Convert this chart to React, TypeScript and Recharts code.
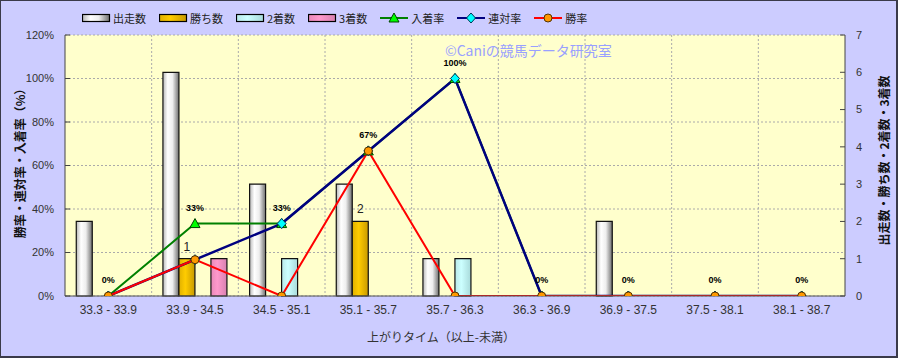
import React from 'react';
import {
  ComposedChart, Bar, Line, XAxis, YAxis, CartesianGrid, Legend, LabelList, Label,
} from 'recharts';

const categories = ['33.3 - 33.9', '33.9 - 34.5', '34.5 - 35.1', '35.1 - 35.7', '35.7 - 36.3', '36.3 - 36.9', '36.9 - 37.5', '37.5 - 38.1', '38.1 - 38.7'];
const starts = [2, 6, 3, 3, 1, 0, 2, 0, 0];
const wins = [0, 1, 0, 2, 0, 0, 0, 0, 0];
const seconds = [0, 0, 1, 0, 1, 0, 0, 0, 0];
const thirds = [0, 1, 0, 0, 0, 0, 0, 0, 0];
const placeRate = [0, 33.3, 33.3, 66.7, 100, 0, 0, 0, 0];
const quinellaRate = [0, 16.7, 33.3, 66.7, 100, 0, 0, 0, 0];
const winRate = [0, 16.7, 0, 66.7, 0, 0, 0, 0, 0];
const leftTicks = [0, 20, 40, 60, 80, 100, 120];
const rightTicks = [0, 1, 2, 3, 4, 5, 6, 7];

const data = categories.map((c, i) => ({
  cat: c,
  starts: starts[i],
  wins: wins[i],
  seconds: seconds[i],
  thirds: thirds[i],
  placeRate: placeRate[i],
  quinellaRate: quinellaRate[i],
  winRate: winRate[i],
}));

const JP = '"Noto Sans CJK JP", "Noto Sans", sans-serif';
const LAT = '"Liberation Sans", Arial, sans-serif';

const Tri = (p: any) => {
  const { cx, cy } = p;
  if (cx == null || cy == null) return null;
  return <polygon key={p.key} points={`${cx},${cy - 5} ${cx - 5},${cy + 4} ${cx + 5},${cy + 4}`} fill="#00FF00" stroke="#004400" strokeWidth={1} />;
};
const Dia = (p: any) => {
  const { cx, cy } = p;
  if (cx == null || cy == null) return null;
  return <polygon key={p.key} points={`${cx},${cy - 5} ${cx + 4.5},${cy} ${cx},${cy + 5} ${cx - 4.5},${cy}`} fill="#00FFFF" stroke="#003355" strokeWidth={1} />;
};
const Circ = (p: any) => {
  const { cx, cy } = p;
  if (cx == null || cy == null) return null;
  return <circle key={p.key} cx={cx} cy={cy} r={4} fill="#FF9900" stroke="#553300" strokeWidth={1} />;
};

const legendItems = [
  { name: '出走数', type: 'bar', fill: 'url(#gStarts)' },
  { name: '勝ち数', type: 'bar', fill: 'url(#gWins)' },
  { name: '2着数', type: 'bar', fill: 'url(#gSec)' },
  { name: '3着数', type: 'bar', fill: 'url(#gThird)' },
  { name: '入着率', type: 'tri', color: '#008000' },
  { name: '連対率', type: 'dia', color: '#000080' },
  { name: '勝率', type: 'circ', color: '#FF0000' },
];

const LegendContent = () => (
  <div style={{ display: 'flex', alignItems: 'center', fontFamily: JP, fontSize: 11, color: '#222', whiteSpace: 'nowrap' }}>
    {legendItems.map((it) => (
      <div key={it.name} style={{ display: 'flex', alignItems: 'center', marginRight: 13 }}>
        <svg width={29} height={12} style={{ marginRight: 2 }}>
          {it.type === 'bar' && <rect x={0.5} y={2.5} width={27} height={7} fill={it.fill} stroke="#000" strokeWidth={1.2} />}
          {it.type !== 'bar' && <line x1={0} y1={6} x2={28} y2={6} stroke={it.color} strokeWidth={2} />}
          {it.type === 'tri' && <Tri cx={14} cy={6} />}
          {it.type === 'dia' && <Dia cx={14} cy={6} />}
          {it.type === 'circ' && <Circ cx={14} cy={6} />}
        </svg>
        <span>{it.name}</span>
      </div>
    ))}
  </div>
);

const vGen = ({ offset }: any) => {
  const n = categories.length;
  const out: number[] = [];
  for (let i = 1; i < n; i++) out.push(offset.left + (offset.width * i) / n);
  return out;
};

export default function App() {
  return (
    <div style={{ position: 'absolute', left: 0, top: 0, width: 898, height: 358, background: '#CCCCFF', boxSizing: 'border-box', border: '1px solid #3a3a4a', borderBottomWidth: 2, borderRightWidth: 2 }}>
      <div style={{ position: 'absolute', left: -1, top: -1 }}>
        <ComposedChart width={898} height={358} data={data} margin={{ top: 35, right: 0, bottom: 12, left: 0 }} barGap={0} barCategoryGap="13%">
          <defs>
            <linearGradient id="gStarts" x1="0" y1="0" x2="1" y2="0">
              <stop offset="0%" stopColor="#b8b8b8" />
              <stop offset="30%" stopColor="#ffffff" />
              <stop offset="60%" stopColor="#eeeeee" />
              <stop offset="100%" stopColor="#6e6e6e" />
            </linearGradient>
            <linearGradient id="gWins" x1="0" y1="0" x2="1" y2="0">
              <stop offset="0%" stopColor="#e0b000" />
              <stop offset="40%" stopColor="#ffcc00" />
              <stop offset="100%" stopColor="#c89a00" />
            </linearGradient>
            <linearGradient id="gSec" x1="0" y1="0" x2="1" y2="0">
              <stop offset="0%" stopColor="#b8e8e8" />
              <stop offset="40%" stopColor="#ccffff" />
              <stop offset="100%" stopColor="#a8dada" />
            </linearGradient>
            <linearGradient id="gThird" x1="0" y1="0" x2="1" y2="0">
              <stop offset="0%" stopColor="#e888b8" />
              <stop offset="40%" stopColor="#ff99cc" />
              <stop offset="100%" stopColor="#d880b0" />
            </linearGradient>
          </defs>
          <CartesianGrid yAxisId="left" fill="#FFFFCC" fillOpacity={1} stroke="#aaaaaa" strokeDasharray="2 2" verticalCoordinatesGenerator={vGen} />
          <XAxis dataKey="cat" interval={0} tickLine={false} axisLine={{ stroke: '#555', strokeWidth: 1 }} height={50} tickMargin={3}
            tick={{ fontSize: 12, fill: '#333', fontFamily: LAT }}>
            <Label value="上がりタイム（以上-未満）" position="insideBottom" offset={4} dx={-14} style={{ fontSize: 12, fill: '#333', fontFamily: JP }} />
          </XAxis>
          <YAxis yAxisId="left" domain={[0, 120]} ticks={leftTicks} width={65} tickSize={-5} tickMargin={16}
            tickFormatter={(v: number) => `${v}%`} axisLine={{ stroke: '#444' }} tickLine={{ stroke: '#444' }}
            tick={{ fontSize: 11, fill: '#333', fontFamily: LAT }} allowDataOverflow>
            <Label value="勝率・連対率・入着率（%）" angle={-90} position="center" dx={-12} dy={-5} style={{ fontSize: 12, fill: '#111', fontFamily: JP, fontWeight: 'bold' }} />
          </YAxis>
          <YAxis yAxisId="right" orientation="right" domain={[0, 7]} ticks={rightTicks} width={53} tickSize={-5} tickMargin={16}
            axisLine={{ stroke: '#444' }} tickLine={{ stroke: '#444' }}
            tick={{ fontSize: 11, fill: '#333', fontFamily: LAT }}>
            <Label value="出走数・勝ち数・2着数・3着数" angle={-90} position="center" dx={13} dy={-5} style={{ fontSize: 12, fill: '#111', fontFamily: JP, fontWeight: 'bold' }} />
          </YAxis>
          <Legend verticalAlign="middle" align="center" layout="horizontal" wrapperStyle={{ top: 10, left: 82, width: 'auto' }} content={<LegendContent />} />
          <Bar yAxisId="right" dataKey="starts" name="出走数" fill="url(#gStarts)" stroke="#111" strokeWidth={1.2} isAnimationActive={false} />
          <Bar yAxisId="right" dataKey="wins" name="勝ち数" fill="url(#gWins)" stroke="#111" strokeWidth={1.2} isAnimationActive={false}>
            <LabelList dataKey="wins" position="top" offset={8} formatter={(v: any) => (v > 0 ? v : '')} style={{ fontSize: 12, fill: '#222', fontFamily: LAT }} />
          </Bar>
          <Bar yAxisId="right" dataKey="seconds" name="2着数" fill="url(#gSec)" stroke="#111" strokeWidth={1.2} isAnimationActive={false} />
          <Bar yAxisId="right" dataKey="thirds" name="3着数" fill="url(#gThird)" stroke="#111" strokeWidth={1.2} isAnimationActive={false} />
          <Line yAxisId="left" dataKey="placeRate" name="入着率" stroke="#008000" strokeWidth={2} dot={Tri} activeDot={false} isAnimationActive={false}>
            <LabelList dataKey="placeRate" position="top" offset={13} formatter={(v: any) => `${Math.round(v)}%`} style={{ fontSize: 9, fontWeight: 'bold', fill: '#000', fontFamily: LAT }} />
          </Line>
          <Line yAxisId="left" dataKey="quinellaRate" name="連対率" stroke="#000080" strokeWidth={2.5} dot={Dia} activeDot={false} isAnimationActive={false} />
          <Line yAxisId="left" dataKey="winRate" name="勝率" stroke="#FF0000" strokeWidth={2} dot={Circ} activeDot={false} isAnimationActive={false} />
        </ComposedChart>
      </div>
      <div style={{ position: 'absolute', left: 444, top: 40, fontFamily: JP, fontSize: 14, color: '#99A0FF', whiteSpace: 'nowrap', lineHeight: '18px' }}>©Caniの競馬データ研究室</div>
    </div>
  );
}
